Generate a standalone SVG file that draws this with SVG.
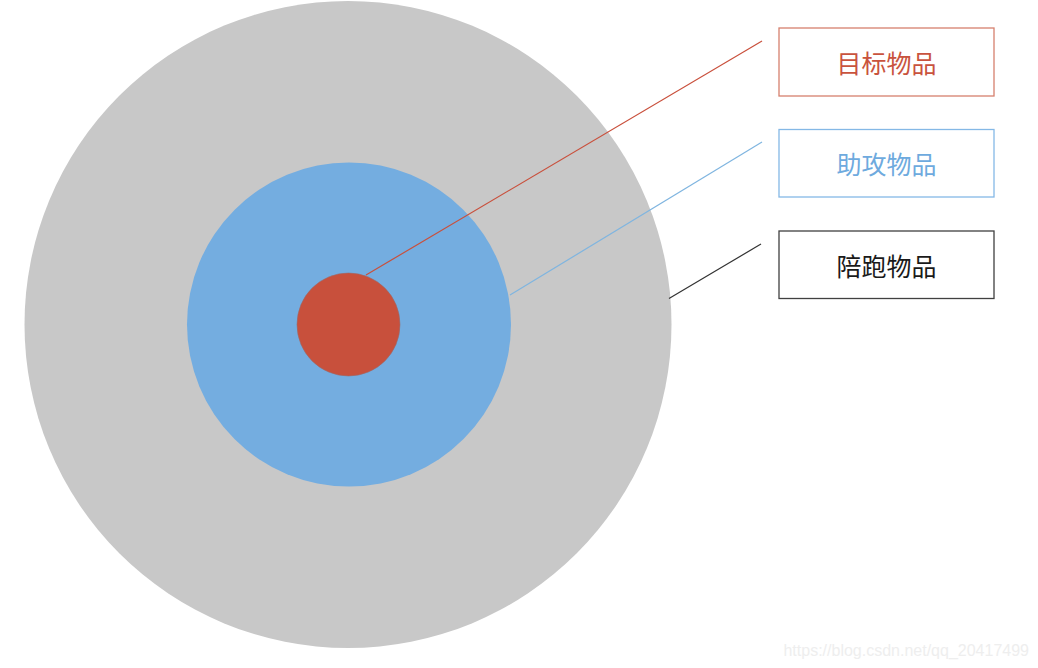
<svg xmlns="http://www.w3.org/2000/svg" width="1038" height="668" viewBox="0 0 1038 668">
<style>
.lbl{font-family:"Noto Sans CJK SC","Noto Sans",sans-serif;font-size:25px;text-anchor:middle;dominant-baseline:central}
.box{fill:#ffffff;stroke-width:1.3}
.conn{stroke-width:1.2;fill:none}
</style>
<rect width="1038" height="668" fill="#ffffff"/>
<g id="outer"><circle cx="348" cy="324.5" r="323.5" fill="#c8c8c8"/></g>
<g id="middle"><circle cx="349" cy="324.5" r="162" fill="#74ade0"/></g>
<g id="inner"><circle cx="348.5" cy="324.5" r="51.5" fill="#c8503c" stroke="#9a6a6a" stroke-width="0.6"/></g>
<g id="connectors">
<line class="conn" x1="366" y1="275" x2="762" y2="41" stroke="#c9503c"/>
<line class="conn" x1="510" y1="295" x2="762" y2="142" stroke="#7fb5e0"/>
<line class="conn" x1="669" y1="298.5" x2="761" y2="244" stroke="#333333"/>
</g>
<g id="target">
<rect class="box" x="779" y="28" width="215" height="68" stroke="#d6806e"/>
<text class="lbl" x="886.5" y="62" fill="#c9533e">目标物品</text>
</g>
<g id="assist">
<rect class="box" x="779" y="129.5" width="215" height="67.5" stroke="#84b8e6"/>
<text class="lbl" x="886.5" y="163" fill="#6eaade">助攻物品</text>
</g>
<g id="accompany">
<rect class="box" x="779" y="231" width="215" height="67.5" stroke="#404040"/>
<text class="lbl" x="886.5" y="265" fill="#1a1a1a">陪跑物品</text>
</g>
<text x="1029" y="656" font-family="Liberation Sans, Arial, sans-serif" font-size="16" fill="#eeeeee" text-anchor="end">https://blog.csdn.net/qq_20417499</text>
</svg>
